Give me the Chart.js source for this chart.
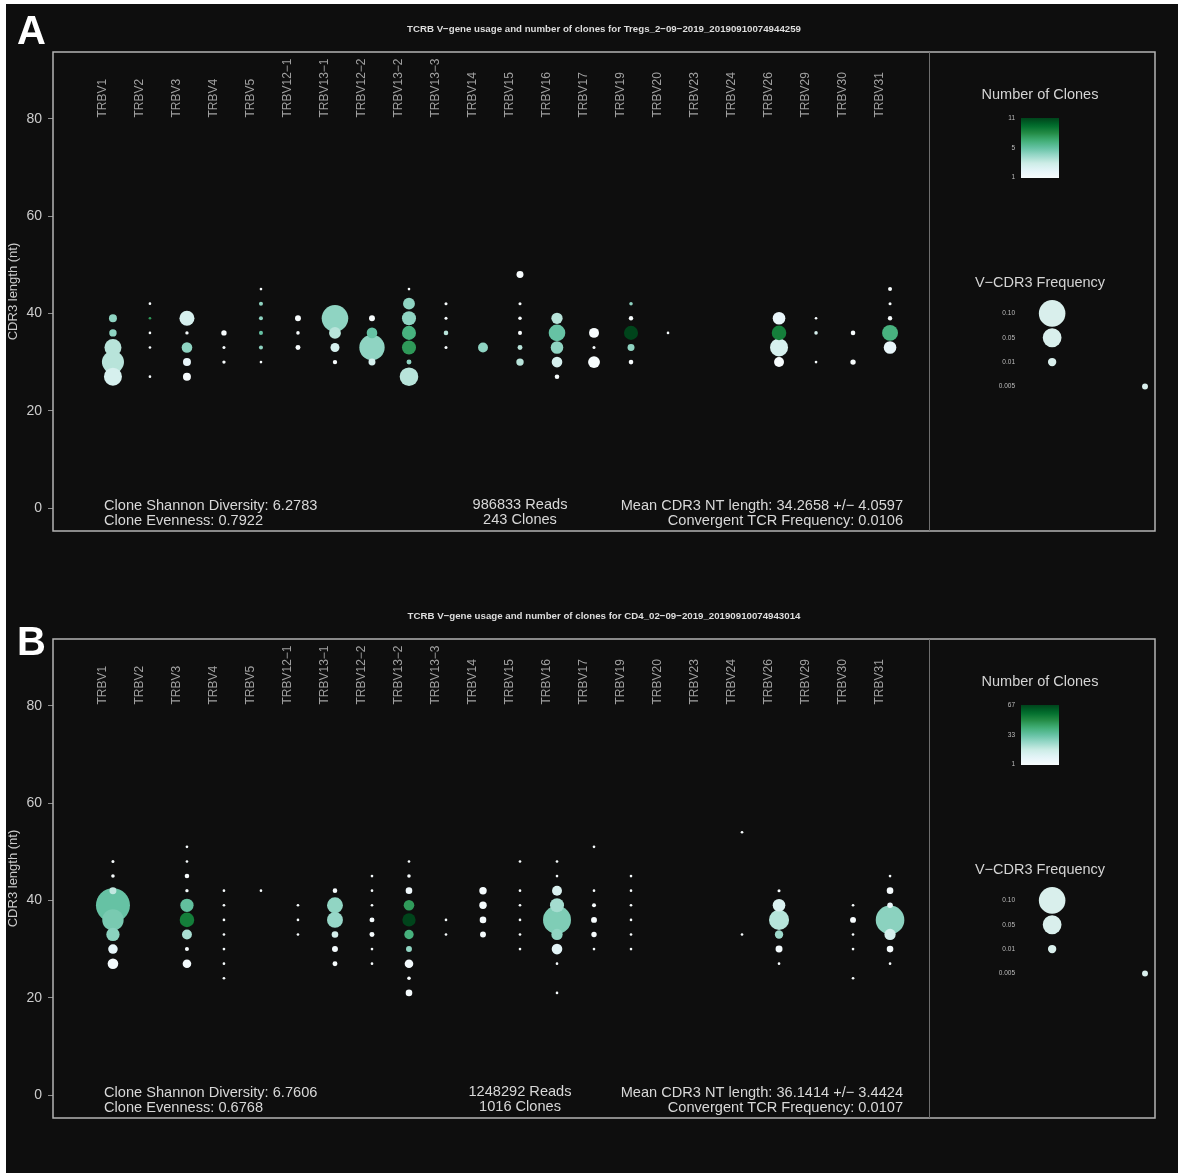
<!DOCTYPE html>
<html>
<head>
<meta charset="utf-8">
<script src="https://cdn.jsdelivr.net/npm/chart.js@4.4.1/dist/chart.umd.min.js"></script>
<style>
  html, body { margin: 0; background: #fff; overflow: hidden; }
  #page { position: absolute; left: 6px; top: 4px; width: 1172px; height: 1169px; background: #0e0e0e; }
  canvas { position: absolute; left: 0; }
  #chartA { top: 0; }
  #chartB { top: 587px; }
</style>
</head>
<body>
<div id="page"></div>
<canvas id="chartA" width="1178" height="587"></canvas>
<canvas id="chartB" width="1178" height="586"></canvas>
<script>
// V genes along the x axis
const genes = ['TRBV1', 'TRBV2', 'TRBV3', 'TRBV4', 'TRBV5', 'TRBV12\u22121', 'TRBV13\u22121', 'TRBV12\u22122',
  'TRBV13\u22122', 'TRBV13\u22123', 'TRBV14', 'TRBV15', 'TRBV16', 'TRBV17', 'TRBV19', 'TRBV20',
  'TRBV23', 'TRBV24', 'TRBV26', 'TRBV29', 'TRBV30', 'TRBV31'];
const yTicks = [0, 20, 40, 60, 80];

// [gene index, CDR3 length, V-CDR3 frequency, number of clones]
const sampleA = 'Tregs_2\u221209\u22122019_20190910074944259';
const clonesA = [
  [0, 39, 0.009, 5], [0, 36, 0.0078, 5], [0, 33, 0.041, 4], [0, 30, 0.069, 4], [0, 27, 0.046, 3],
  [1, 42, 0.001, 1], [1, 39, 0.001, 8], [1, 36, 0.001, 1], [1, 33, 0.001, 1], [1, 27, 0.001, 1],
  [2, 39, 0.032, 3], [2, 36, 0.0016, 1], [2, 33, 0.016, 5], [2, 30, 0.009, 2], [2, 27, 0.009, 1],
  [3, 36, 0.0041, 1], [3, 33, 0.0013, 1], [3, 30, 0.0016, 1],
  [4, 45, 0.001, 1], [4, 42, 0.0023, 5], [4, 39, 0.0023, 5], [4, 36, 0.0023, 6], [4, 33, 0.0023, 5], [4, 30, 0.001, 1],
  [5, 39, 0.005, 1], [5, 36, 0.0018, 1], [5, 33, 0.0035, 1],
  [6, 39, 0.1, 5], [6, 36, 0.02, 4], [6, 33, 0.0115, 3], [6, 30, 0.0027, 1],
  [7, 39, 0.005, 1], [7, 36, 0.016, 6], [7, 33, 0.091, 5], [7, 30, 0.0069, 3],
  [8, 45, 0.001, 1], [8, 42, 0.02, 5], [8, 39, 0.028, 5], [8, 36, 0.028, 7], [8, 33, 0.028, 8], [8, 30, 0.0035, 5], [8, 27, 0.049, 4],
  [9, 42, 0.0013, 1], [9, 39, 0.0013, 1], [9, 36, 0.003, 4], [9, 33, 0.0013, 1],
  [10, 33, 0.014, 5],
  [11, 48, 0.0069, 1], [11, 42, 0.0013, 1], [11, 39, 0.0018, 1], [11, 36, 0.0023, 1], [11, 33, 0.0035, 4], [11, 30, 0.0078, 4],
  [12, 39, 0.018, 4], [12, 36, 0.039, 6], [12, 33, 0.0225, 5], [12, 30, 0.016, 3], [12, 27, 0.003, 1],
  [13, 36, 0.014, 1], [13, 33, 0.0013, 1], [13, 30, 0.02, 1],
  [14, 42, 0.0018, 5], [14, 39, 0.0027, 1], [14, 36, 0.028, 11], [14, 33, 0.0069, 5], [14, 30, 0.003, 1],
  [15, 36, 0.001, 1],
  [18, 39, 0.0225, 2], [18, 36, 0.03, 9], [18, 33, 0.046, 3], [18, 30, 0.014, 1],
  [19, 39, 0.001, 1], [19, 36, 0.0018, 3], [19, 30, 0.001, 1],
  [20, 36, 0.003, 1], [20, 30, 0.0041, 1],
  [21, 45, 0.0023, 1], [21, 42, 0.0013, 1], [21, 39, 0.0027, 1], [21, 36, 0.036, 7], [21, 33, 0.0225, 2]
];
const scaleA = ['1', '5', '11'];
const statsA = ['6.2783', '0.7922', '986833', '243', '34.2658', '4.0597', '0.0106'];

const sampleB = 'CD4_02\u221209\u22122019_20190910074943014';
const clonesB = [
  [0, 48, 0.0013, 1], [0, 45, 0.0018, 1], [0, 42, 0.0069, 19], [0, 39, 0.164, 34], [0, 36, 0.065, 31], [0, 33, 0.025, 28], [0, 30, 0.013, 9], [0, 27, 0.016, 3],
  [2, 51, 0.001, 1], [2, 48, 0.001, 1], [2, 45, 0.003, 1], [2, 42, 0.0016, 1], [2, 39, 0.025, 35], [2, 36, 0.03, 54], [2, 33, 0.014, 23], [2, 30, 0.0023, 1], [2, 27, 0.0105, 3],
  [3, 42, 0.001, 1], [3, 39, 0.001, 1], [3, 36, 0.001, 1], [3, 33, 0.001, 1], [3, 30, 0.001, 1], [3, 27, 0.001, 1], [3, 24, 0.001, 1],
  [4, 42, 0.001, 1],
  [5, 39, 0.001, 1], [5, 36, 0.001, 1], [5, 33, 0.001, 1],
  [6, 42, 0.003, 1], [6, 39, 0.036, 27], [6, 36, 0.036, 26], [6, 33, 0.0062, 15], [6, 30, 0.005, 3], [6, 27, 0.0035, 1],
  [7, 45, 0.001, 1], [7, 42, 0.001, 1], [7, 39, 0.001, 1], [7, 36, 0.0035, 2], [7, 33, 0.0035, 2], [7, 30, 0.001, 1], [7, 27, 0.001, 1],
  [8, 48, 0.001, 1], [8, 45, 0.0018, 1], [8, 42, 0.0062, 4], [8, 39, 0.016, 47], [8, 36, 0.025, 67], [8, 33, 0.0125, 41], [8, 30, 0.005, 27], [8, 27, 0.0105, 3], [8, 24, 0.0018, 1], [8, 21, 0.0062, 2],
  [9, 36, 0.001, 1], [9, 33, 0.001, 1],
  [10, 42, 0.0078, 2], [10, 39, 0.0078, 2], [10, 36, 0.0062, 2], [10, 33, 0.005, 2],
  [11, 48, 0.001, 1], [11, 42, 0.001, 1], [11, 39, 0.001, 1], [11, 36, 0.001, 1], [11, 33, 0.001, 1], [11, 30, 0.001, 1],
  [12, 48, 0.001, 1], [12, 45, 0.001, 1], [12, 42, 0.014, 13], [12, 39, 0.028, 24], [12, 36, 0.111, 30], [12, 33, 0.018, 27], [12, 30, 0.016, 10], [12, 27, 0.001, 1], [12, 21, 0.001, 1],
  [13, 51, 0.001, 1], [13, 42, 0.001, 1], [13, 39, 0.0023, 1], [13, 36, 0.005, 1], [13, 33, 0.0041, 1], [13, 30, 0.001, 1],
  [14, 45, 0.001, 1], [14, 42, 0.001, 1], [14, 39, 0.001, 1], [14, 36, 0.001, 1], [14, 33, 0.001, 1], [14, 30, 0.001, 1],
  [17, 54, 0.001, 1], [17, 33, 0.001, 1],
  [18, 42, 0.0013, 1], [18, 39, 0.0225, 13], [18, 36, 0.057, 21], [18, 33, 0.01, 25], [18, 30, 0.0069, 3], [18, 27, 0.001, 1],
  [20, 39, 0.001, 1], [20, 36, 0.005, 1], [20, 33, 0.001, 1], [20, 30, 0.001, 1], [20, 24, 0.001, 1],
  [21, 45, 0.001, 1], [21, 42, 0.0062, 2], [21, 39, 0.0044, 7], [21, 36, 0.116, 28], [21, 33, 0.018, 15], [21, 30, 0.0062, 2], [21, 27, 0.001, 1]
];
const scaleB = ['1', '33', '67'];
const statsB = ['6.7606', '0.6768', '1248292', '1016', '36.1414', '3.4424', '0.0107'];

// size legend
const legendFreqs = ['0.10', '0.05', '0.01', '0.005'];

// ---- styling / layout ----
const FONT = "'Liberation Sans', Arial, Helvetica, sans-serif";
Chart.defaults.font.family = FONT;
const R_SCALE = 42;                 // bubble radius = R_SCALE * sqrt(freq)
const BUGN = ['#F7FCFD', '#E5F5F9', '#CCECE6', '#99D8C9', '#66C2A4', '#41AE76', '#238B45', '#006D2C', '#00441B'];
const LEGEND_COLOR = '#d9efec';
const X_MIN = -1.62, X_MAX = 28.16, Y_MIN = -4.7, Y_MAX = 93.7;
const DIVIDER_X = 22.05;
const LEGEND_BUBBLE_POS = [[25.38, 40], [25.38, 35], [25.38, 30], [27.89, 25]];

function hexToRgb(h) {
  const n = parseInt(h.slice(1), 16);
  return [n >> 16, (n >> 8) & 255, n & 255];
}
function bugn(t) {
  t = Math.max(0, Math.min(1, t));
  const p = t * (BUGN.length - 1);
  const i = Math.min(Math.floor(p), BUGN.length - 2);
  const f = p - i;
  const a = hexToRgb(BUGN[i]), b = hexToRgb(BUGN[i + 1]);
  return 'rgb(' + a.map((v, k) => Math.round(v + (b[k] - v) * f)).join(',') + ')';
}

const panelDecor = {
  id: 'panelDecor',
  afterDraw(chart, args, o) {
    const ctx = chart.ctx, a = chart.chartArea;
    const xs = chart.scales.x, ys = chart.scales.y;
    ctx.save();

    // frame + divider
    ctx.strokeStyle = '#b4b4b4';
    ctx.lineWidth = 1.5;
    ctx.strokeRect(a.left, a.top, a.right - a.left, a.bottom - a.top);
    const dx = Math.round(xs.getPixelForValue(DIVIDER_X)) + 0.5;
    ctx.strokeStyle = '#6e6e6e';
    ctx.lineWidth = 1;
    ctx.beginPath(); ctx.moveTo(dx, a.top); ctx.lineTo(dx, a.bottom); ctx.stroke();

    // panel letter
    ctx.fillStyle = '#ffffff';
    ctx.font = 'bold 40px ' + FONT;
    ctx.textAlign = 'left'; ctx.textBaseline = 'alphabetic';
    ctx.fillText(o.letter, 17, o.letterY);

    // title
    ctx.fillStyle = '#dddddd';
    ctx.font = 'bold 9.7px ' + FONT;
    ctx.textAlign = 'center'; ctx.textBaseline = 'middle';
    ctx.fillText('TCRB V\u2212gene usage and number of clones for ' + o.sample, 604, 29);

    // gene labels
    ctx.fillStyle = '#a0a0a0';
    ctx.font = '12px ' + FONT;
    genes.forEach((g, i) => {
      ctx.save();
      ctx.translate(xs.getPixelForValue(i) - 10, 117.5);
      ctx.rotate(-Math.PI / 2);
      ctx.textAlign = 'left'; ctx.textBaseline = 'middle';
      ctx.fillText(g, 0, 0);
      ctx.restore();
    });

    // summary statistics
    const s = o.stats;
    ctx.fillStyle = '#d8d8d8';
    ctx.font = '14.6px ' + FONT;
    ctx.textAlign = 'left';
    ctx.fillText('Clone Shannon Diversity: ' + s[0], 104, 506);
    ctx.fillText('Clone Evenness: ' + s[1], 104, 521);
    ctx.textAlign = 'center';
    ctx.fillText(s[2] + ' Reads', 520, 505);
    ctx.fillText(s[3] + ' Clones', 520, 520);
    ctx.textAlign = 'right';
    ctx.fillText('Mean CDR3 NT length: ' + s[4] + ' +/\u2212 ' + s[5], 903, 506);
    ctx.fillText('Convergent TCR Frequency: ' + s[6], 903, 521);

    // legend titles
    ctx.fillStyle = '#d4d4d4';
    ctx.font = '14.5px ' + FONT;
    ctx.textAlign = 'center';
    ctx.fillText('Number of Clones', 1040, 95);
    ctx.fillText('V\u2212CDR3 Frequency', 1040, 283);

    // colour bar
    const bx = 1021, bw = 38, bt = 118, bb = 178;
    const grad = ctx.createLinearGradient(0, bb, 0, bt);
    for (let k = 0; k <= 20; k++) grad.addColorStop(k / 20, bugn(k / 20));
    ctx.fillStyle = grad;
    ctx.fillRect(bx, bt, bw, bb - bt);
    ctx.fillStyle = '#bdbdbd';
    ctx.font = '6.5px ' + FONT;
    ctx.textAlign = 'right';
    ctx.fillText(o.scale[2], 1015, bt);
    ctx.fillText(o.scale[1], 1015, (bt + bb) / 2);
    ctx.fillText(o.scale[0], 1015, bb - 1);

    // frequency legend labels
    legendFreqs.forEach((f, i) => {
      ctx.fillText(f, 1015, ys.getPixelForValue(LEGEND_BUBBLE_POS[i][1]));
    });
    ctx.restore();
  }
};

function buildPanel(id, letter, letterY, sample, clones, scale, stats) {
  const maxClones = Number(scale[2]);
  const pts = clones.map(([g, len, freq, n]) => ({
    x: g, y: len, r: R_SCALE * Math.sqrt(freq), c: bugn((n - 1) / (maxClones - 1))
  })).sort((p, q) => q.r - p.r);
  const legendPts = legendFreqs.map((f, i) => ({
    x: LEGEND_BUBBLE_POS[i][0], y: LEGEND_BUBBLE_POS[i][1], r: R_SCALE * Math.sqrt(Number(f))
  }));

  return new Chart(document.getElementById(id), {
    type: 'bubble',
    data: {
      datasets: [
        { data: pts, backgroundColor: pts.map(p => p.c), borderWidth: 0, hoverRadius: 0 },
        { data: legendPts, backgroundColor: LEGEND_COLOR, borderWidth: 0, hoverRadius: 0 }
      ]
    },
    options: {
      responsive: false,
      animation: false,
      events: [],
      layout: { padding: { left: 0, right: 23, top: 52, bottom: id === 'chartA' ? 56 : 55 } },
      plugins: {
        legend: { display: false },
        tooltip: { enabled: false },
        panelDecor: { letter, letterY, sample, scale, stats }
      },
      scales: {
        x: { type: 'linear', min: X_MIN, max: X_MAX, display: false },
        y: {
          type: 'linear', min: Y_MIN, max: Y_MAX,
          afterFit: s => { s.width = 53; },
          afterBuildTicks: s => { s.ticks = yTicks.map(v => ({ value: v })); },
          ticks: { color: '#cccccc', font: { size: 14 }, padding: 6 },
          grid: { drawOnChartArea: false, drawTicks: true, tickLength: 5, color: '#8c8c8c' },
          border: { display: false },
          title: { display: true, text: 'CDR3 length (nt)', color: '#cccccc', font: { size: 13 }, padding: { top: 6, bottom: 0 } }
        }
      }
    },
    plugins: [panelDecor]
  });
}

buildPanel('chartA', 'A', 44, sampleA, clonesA, scaleA, statsA);
buildPanel('chartB', 'B', 68, sampleB, clonesB, scaleB, statsB);
</script>
</body>
</html>
